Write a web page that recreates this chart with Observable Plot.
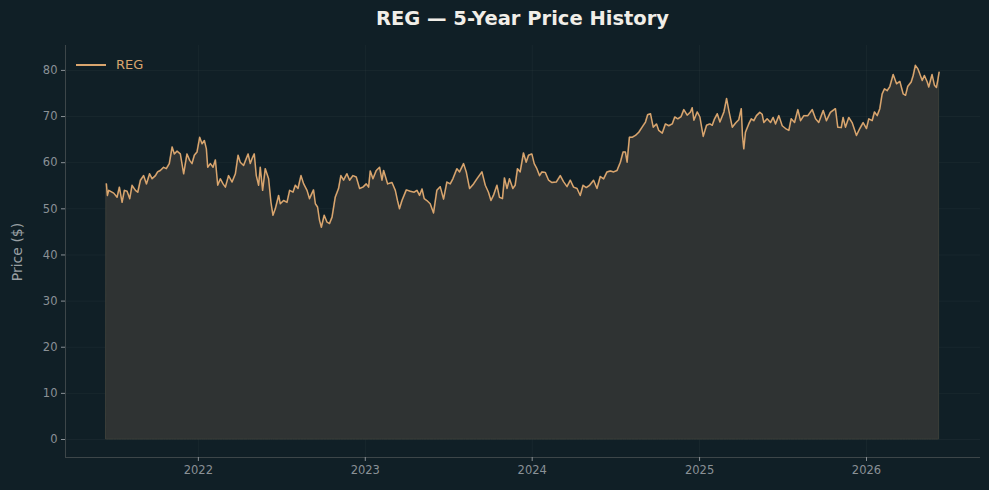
<!DOCTYPE html>
<html>
<head>
<meta charset="utf-8">
<script src="https://cdn.jsdelivr.net/npm/d3@7"></script>
<script src="https://cdn.jsdelivr.net/npm/@observablehq/plot@0.6"></script>
<style>
  html, body { margin: 0; padding: 0; background: #101f26; }
  body { width: 989px; height: 490px; overflow: hidden; position: relative; font-family: "DejaVu Sans", sans-serif; }
  #title { height: 38px; line-height: 38px; text-align: center; color: #f1eee8; font-weight: bold; font-size: 19.5px; padding-left: 56px; }
  #legend { position: absolute; left: 76px; top: 57px; display: flex; align-items: center; color: #d9a56e; font-size: 13px; }
  #legend .sw { width: 30px; height: 0; border-top: 2px solid #d9a56e; margin-right: 10px; }
  #ylabel { position: absolute; left: 17px; top: 252px; transform: translate(-50%, -50%) rotate(-90deg); color: #9aa0a4; font-size: 14px; white-space: nowrap; }
</style>
</head>
<body>
<div id="title">REG — 5-Year Price History</div>
<div id="chart"></div>
<div id="legend"><div class="sw"></div><span>REG</span></div>
<div id="ylabel">Price ($)</div>
<script>
// decimal-year sample times and closing prices
const years = [
2021.449,2021.455,2021.463,2021.493,2021.513,2021.527,2021.543,2021.557,2021.573,2021.589,
2021.603,2021.623,2021.637,2021.653,2021.672,2021.689,2021.708,2021.723,2021.743,2021.756,
2021.772,2021.792,2021.808,2021.826,2021.843,2021.856,2021.872,2021.892,2021.912,2021.932,
2021.948,2021.962,2021.976,2021.992,2022.008,2022.022,2022.036,2022.048,2022.056,2022.072,
2022.088,2022.102,2022.116,2022.132,2022.148,2022.162,2022.181,2022.202,2022.222,2022.238,
2022.251,2022.271,2022.298,2022.311,2022.322,2022.335,2022.347,2022.361,2022.371,2022.385,
2022.401,2022.421,2022.435,2022.447,2022.461,2022.481,2022.491,2022.511,2022.531,2022.547,
2022.567,2022.581,2022.597,2022.615,2022.631,2022.651,2022.666,2022.690,2022.701,2022.714,
2022.726,2022.737,2022.754,2022.771,2022.786,2022.801,2022.820,2022.840,2022.854,2022.870,
2022.890,2022.906,2022.926,2022.946,2022.966,2022.986,2023.006,2023.020,2023.030,2023.046,
2023.066,2023.086,2023.100,2023.110,2023.134,2023.160,2023.180,2023.193,2023.205,2023.220,
2023.246,2023.269,2023.293,2023.310,2023.325,2023.340,2023.353,2023.369,2023.389,2023.409,
2023.429,2023.449,2023.469,2023.489,2023.509,2023.525,2023.549,2023.565,2023.589,2023.605,
2023.625,2023.649,2023.669,2023.699,2023.719,2023.738,2023.753,2023.768,2023.789,2023.804,
2023.822,2023.834,2023.849,2023.864,2023.884,2023.898,2023.912,2023.928,2023.948,2023.964,
2023.978,2023.998,2024.012,2024.028,2024.044,2024.058,2024.078,2024.098,2024.118,2024.144,
2024.168,2024.187,2024.208,2024.228,2024.247,2024.268,2024.287,2024.304,2024.323,2024.343,
2024.367,2024.387,2024.407,2024.427,2024.447,2024.467,2024.487,2024.507,2024.527,2024.543,
2024.557,2024.567,2024.581,2024.597,2024.617,2024.637,2024.657,2024.677,2024.690,2024.707,
2024.723,2024.743,2024.756,2024.777,2024.796,2024.816,2024.837,2024.852,2024.870,2024.890,
2024.906,2024.926,2024.946,2024.956,2024.966,2024.986,2025.002,2025.022,2025.042,2025.062,
2025.076,2025.090,2025.106,2025.122,2025.146,2025.162,2025.176,2025.196,2025.216,2025.235,
2025.250,2025.257,2025.265,2025.275,2025.295,2025.310,2025.325,2025.341,2025.361,2025.375,
2025.385,2025.405,2025.425,2025.441,2025.455,2025.475,2025.495,2025.515,2025.535,2025.549,
2025.569,2025.589,2025.605,2025.625,2025.649,2025.675,2025.695,2025.714,2025.741,2025.760,
2025.784,2025.814,2025.828,2025.849,2025.860,2025.874,2025.894,2025.914,2025.940,2025.960,
2025.980,2026.000,2026.014,2026.034,2026.048,2026.064,2026.080,2026.094,2026.108,2026.124,
2026.140,2026.160,2026.180,2026.200,2026.220,2026.234,2026.247,2026.268,2026.280,2026.293,
2026.307,2026.319,2026.334,2026.347,2026.364,2026.373,2026.393,2026.407,2026.419,2026.427,
2026.435
];
const prices = [
55.4,52.9,54.0,53.4,52.5,54.7,51.4,54.0,53.8,52.2,
55.1,54.0,53.6,56.2,57.2,55.4,57.6,56.5,57.2,58.0,
58.3,59.0,58.7,59.8,63.4,61.9,62.5,61.9,57.6,61.9,
60.5,59.8,61.6,62.3,65.5,64.1,64.8,63.0,59.0,59.8,
59.0,60.6,55.1,56.5,55.4,54.7,57.2,55.8,57.6,61.6,
60.1,59.4,61.9,59.8,60.9,61.9,57.2,55.1,59.0,54.0,
58.7,56.5,51.4,48.6,50.0,52.9,51.1,51.8,51.4,54.0,
53.6,55.1,54.4,57.2,55.4,54.0,52.2,54.1,51.1,50.4,
47.5,46.0,48.6,47.1,46.8,48.2,52.5,54.4,57.2,56.2,
57.6,56.2,57.2,56.9,54.4,54.7,55.4,54.7,58.2,56.5,
58.3,59.0,56.2,58.3,55.4,55.7,54.0,51.8,50.0,51.8,
54.1,53.8,53.6,54.0,52.9,54.3,52.2,51.8,51.1,49.1,
54.0,54.8,52.1,55.8,55.4,56.5,58.7,58.0,59.8,58.0,
54.4,55.4,56.5,58.0,55.1,53.6,51.8,52.9,55.1,52.5,
52.2,56.7,54.4,56.5,54.4,55.1,58.7,58.0,62.1,60.1,
61.6,61.9,59.8,58.7,57.2,58.0,57.9,56.2,55.7,55.8,
57.2,55.9,54.8,56.2,54.7,54.4,52.9,55.1,54.6,55.1,
56.2,54.4,57.0,56.5,58.0,58.2,58.0,58.3,60.1,62.3,
62.3,60.1,65.5,65.5,65.9,66.6,67.7,68.8,70.4,70.6,
67.7,68.4,67.0,66.4,68.4,68.0,68.4,69.9,69.5,70.0,
71.5,70.3,71.0,71.9,69.2,71.0,69.9,65.7,68.1,68.4,
68.1,69.5,70.6,68.8,71.0,73.9,71.2,67.7,68.6,69.3,
71.7,65.9,63.0,66.6,68.4,69.5,69.1,70.2,70.9,70.5,
68.7,69.5,68.7,69.8,68.4,70.2,68.0,67.4,67.0,69.5,
68.7,71.5,69.1,70.2,70.2,71.5,69.5,68.7,71.3,69.1,
70.9,71.7,67.7,67.6,69.8,67.7,69.8,68.7,65.9,67.4,
68.7,67.4,69.5,69.1,71.0,70.2,71.7,74.9,76.0,75.6,
76.5,79.1,77.1,77.6,74.9,74.6,76.5,77.5,78.9,81.1,
80.4,79.3,77.8,78.9,77.5,76.4,79.1,76.8,76.3,77.8,
79.6
];
const yTicks = [0, 10, 20, 30, 40, 50, 60, 70, 80];
const xTickYears = [2022, 2023, 2024, 2025, 2026];
const seriesName = "REG";

function fromDecimalYear(t) {
  const y = Math.floor(t);
  const s = Date.UTC(y, 0, 1), e = Date.UTC(y + 1, 0, 1);
  return new Date(s + (t - y) * (e - s));
}
const data = years.map((t, i) => ({date: fromDecimalYear(t), price: prices[i]}));
const xTicks = xTickYears.map(y => new Date(Date.UTC(y, 0, 1)));
const xDomain = [fromDecimalYear(2021.204), fromDecimalYear(2026.683)];
const yDomain = [-3.9, 85.4];

const tickColor = "#8a9196";
const gridColor = "#ffffff";

const chart = Plot.plot({
  width: 989,
  height: 452,
  marginTop: 7,
  marginLeft: 65,
  marginRight: 9,
  marginBottom: 33,
  style: {background: "transparent", fontFamily: "DejaVu Sans, sans-serif", fontSize: "11.5px"},
  x: {type: "utc", domain: xDomain},
  y: {domain: yDomain},
  marks: [
    Plot.gridY(yTicks, {stroke: gridColor, strokeOpacity: 0.035, strokeWidth: 1}),
    Plot.gridX(xTicks, {stroke: gridColor, strokeOpacity: 0.035, strokeWidth: 1}),
    Plot.areaY(data, {x: "date", y1: 0, y2: "price", fill: "#2f3333", stroke: "#3b3e39", strokeWidth: 1}),
    Plot.lineY(data, {x: "date", y: "price", stroke: "#d9a56e", strokeWidth: 1.5}),
    Plot.ruleX([xDomain[0]], {stroke: "#3d4649", strokeWidth: 1}),
    Plot.ruleY([yDomain[0]], {stroke: "#3d4649", strokeWidth: 1}),
    Plot.axisY(yTicks, {color: tickColor, tickSize: 4, tickPadding: 4, label: null}),
    Plot.axisX(xTicks, {color: tickColor, tickSize: 4, tickPadding: 4, tickFormat: d3.utcFormat("%Y"), label: null})
  ]
});
document.getElementById("chart").append(chart);
</script>
</body>
</html>
